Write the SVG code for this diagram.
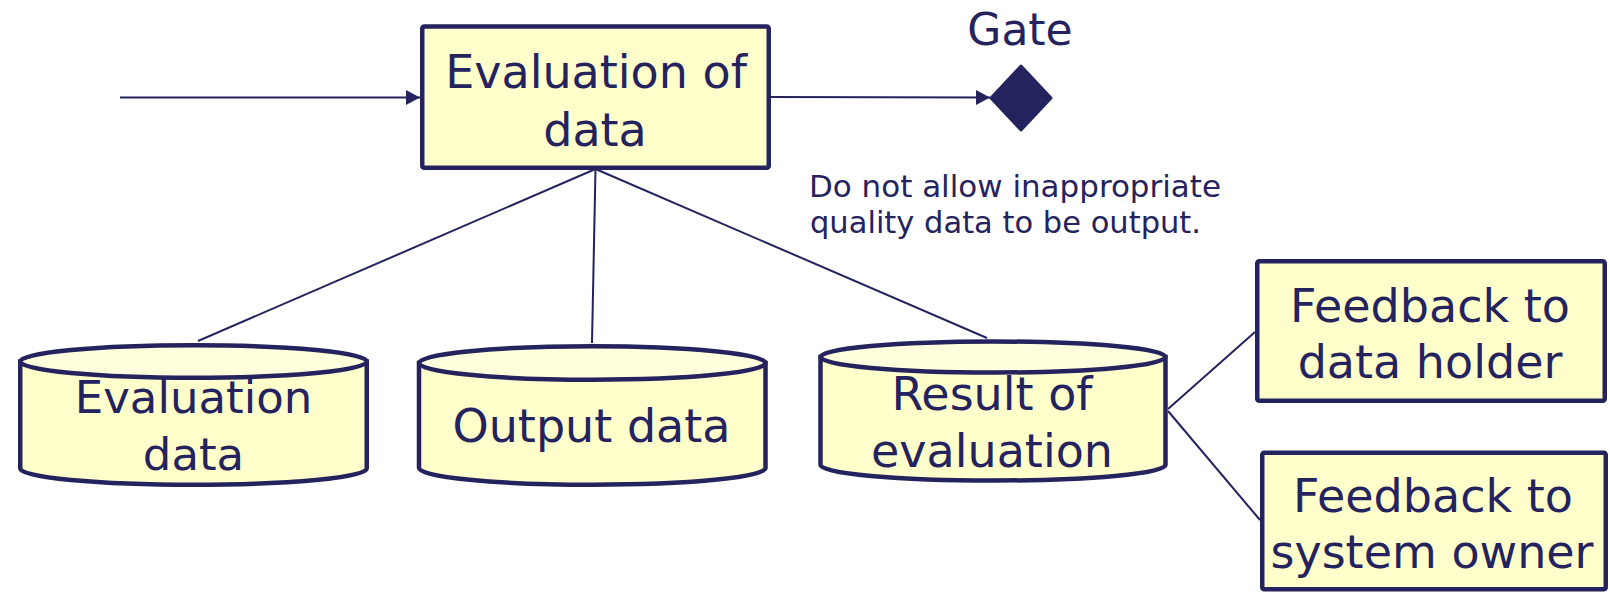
<svg xmlns="http://www.w3.org/2000/svg" width="1610" height="593" viewBox="0 0 1610 593">
<style>
  .box { fill: #ffffcc; stroke: #24235e; stroke-width: 4.5; }
  .cyl { fill: #ffffcc; stroke: #24235e; stroke-width: 4.5; }
  .cyltop { fill: #ffffdd; stroke: #24235e; stroke-width: 4.5; }
  .t { font-family: "DejaVu Sans", Verdana, sans-serif; fill: #24235e; text-anchor: middle; font-size: 46px; }
  .note { font-family: "DejaVu Sans", Verdana, sans-serif; fill: #24235e; font-size: 30.5px; }
  .c { stroke: #24235e; stroke-width: 2; fill: none; }
</style>
<defs>
  <marker id="arr" markerUnits="userSpaceOnUse" markerWidth="16" markerHeight="16" refX="14" refY="8" orient="auto">
    <path d="M0,0.5 L14,8 L0,15.5 Z" fill="#24235e"/>
  </marker>
</defs>
<rect width="1610" height="593" fill="#ffffff"/>

<g id="connectors">
  <line class="c" x1="120" y1="97.5" x2="420" y2="97.5" marker-end="url(#arr)"/>
  <line class="c" x1="771" y1="97" x2="990" y2="97.5" marker-end="url(#arr)"/>
  <line class="c" x1="595.5" y1="169" x2="198" y2="341"/>
  <line class="c" x1="595.5" y1="169" x2="592" y2="343"/>
  <line class="c" x1="595.5" y1="169" x2="987" y2="338"/>
  <line class="c" x1="1168" y1="409" x2="1255" y2="332"/>
  <line class="c" x1="1168" y1="411" x2="1260" y2="520"/>
</g>

<g id="evaluation-of-data">
  <rect class="box" x="422.25" y="26.5" width="346.5" height="141.25" rx="2"/>
  <text class="t" x="596" y="88">Evaluation of</text>
  <text class="t" x="595" y="146">data</text>
</g>

<g id="gate">
  <text class="t" x="1020" y="45" style="font-size:44px">Gate</text>
  <polygon points="1021,66 1051,98 1021,130 991,98" fill="#24235e" stroke="#24235e" stroke-width="3" stroke-linejoin="round"/>
</g>

<g id="note">
  <text class="note" x="809" y="197" textLength="412" lengthAdjust="spacingAndGlyphs">Do not allow inappropriate</text>
  <text class="note" x="810" y="233" textLength="391" lengthAdjust="spacingAndGlyphs">quality data to be output.</text>
</g>

<g id="evaluation-data">
  <path class="cyl" d="M20.25,361.5 L20.25,468.5 A173.25,16.25 0 0 0 366.75,468.5 L366.75,361.5 Z"/>
  <ellipse class="cyltop" cx="193.5" cy="361.5" rx="173.25" ry="16.25"/>
  <text class="t" x="193.5" y="413" style="font-size:45px">Evaluation</text>
  <text class="t" x="193.5" y="470" style="font-size:45px">data</text>
</g>

<g id="output-data">
  <path class="cyl" d="M419,363 L419,468 A173.25,16.75 0 0 0 765.5,468 L765.5,363 Z"/>
  <ellipse class="cyltop" cx="592.25" cy="363" rx="173.25" ry="16.75"/>
  <text class="t" x="591.5" y="442">Output data</text>
</g>

<g id="result-of-evaluation">
  <path class="cyl" d="M820.5,357 L820.5,465 A172.5,15.5 0 0 0 1165.5,465 L1165.5,357 Z"/>
  <ellipse class="cyltop" cx="993" cy="357" rx="172.5" ry="15.5"/>
  <text class="t" x="992" y="410">Result of</text>
  <text class="t" x="992" y="467">evaluation</text>
</g>

<g id="feedback-data-holder">
  <rect class="box" x="1257.25" y="261.25" width="347.5" height="139.5" rx="2"/>
  <text class="t" x="1430" y="322">Feedback to</text>
  <text class="t" x="1430" y="378">data holder</text>
</g>

<g id="feedback-system-owner">
  <rect class="box" x="1262.25" y="452.75" width="343.5" height="136.5" rx="2"/>
  <text class="t" x="1433" y="512">Feedback to</text>
  <text class="t" x="1432" y="568">system owner</text>
</g>
</svg>
